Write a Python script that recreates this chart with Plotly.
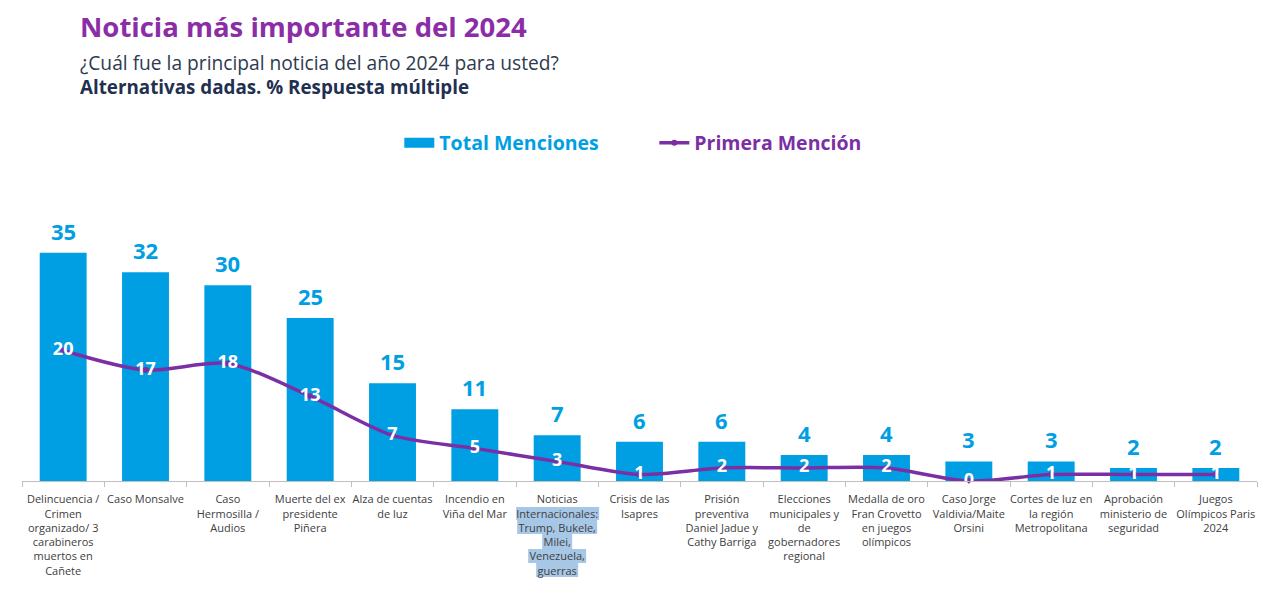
import plotly.graph_objects as go

categories = [
    "Delincuencia /<br>Crimen<br>organizado/ 3<br>carabineros<br>muertos en<br>Cañete",
    "Caso Monsalve",
    "Caso<br>Hermosilla /<br>Audios",
    "Muerte del ex<br>presidente<br>Piñera",
    "Alza de cuentas<br>de luz",
    "Incendio en<br>Viña del Mar",
    "Noticias<br>Internacionales:<br>Trump, Bukele,<br>Milei,<br>Venezuela,<br>guerras",
    "Crisis de las<br>Isapres",
    "Prisión<br>preventiva<br>Daniel Jadue y<br>Cathy Barriga",
    "Elecciones<br>municipales y<br>de<br>gobernadores<br>regional",
    "Medalla de oro<br>Fran Crovetto<br>en juegos<br>olímpicos",
    "Caso Jorge<br>Valdivia/Maite<br>Orsini",
    "Cortes de luz en<br>la región<br>Metropolitana",
    "Aprobación<br>ministerio de<br>seguridad",
    "Juegos<br>Olímpicos Paris<br>2024",
]
total_menciones = [35, 32, 30, 25, 15, 11, 7, 6, 6, 4, 4, 3, 3, 2, 2]
primera_mencion = [20, 17, 18, 13, 7, 5, 3, 1, 2, 2, 2, 0, 1, 1, 1]

BLUE = "#009FE3"
PURPLE = "#7B2FA5"
HILITE = "#A7C7E7"
FONT = "Open Sans"

fig = go.Figure()
fig.add_trace(go.Bar(
    x=categories, y=total_menciones,
    name="Total Menciones", showlegend=False,
    marker=dict(color=BLUE, line=dict(width=0)),
))
# legend proxy drawn as a wide block, like the reference's legend key
fig.add_trace(go.Scatter(
    x=[None], y=[None], mode="lines",
    name="<span style='color:%s'><b>Total Menciones</b></span>" % BLUE,
    line=dict(color=BLUE, width=11),
))
fig.add_trace(go.Scatter(
    x=categories, y=primera_mencion,
    name="<span style='color:%s'><b>Primera Mención</b></span>" % PURPLE,
    mode="lines+markers+text",
    line=dict(color=PURPLE, width=3.5, shape="spline", smoothing=0.8),
    marker=dict(color=PURPLE, size=6),
    text=[str(v) for v in primera_mencion],
    texttemplate="<b>%{text}</b>",
    textposition="middle center",
    textfont=dict(color="white", size=18, family=FONT),
    cliponaxis=False,
))

annotations = [
    dict(x=c, y=v, xref="x", yref="y", text="<b>%d</b>" % v, showarrow=False,
         yanchor="middle", yshift=22, font=dict(color=BLUE, size=22, family=FONT))
    for c, v in zip(categories, total_menciones)
]
x0 = (78 - 22) / 1235
annotations += [
    dict(text="<b>Noticia más importante del 2024</b>", xref="paper", yref="paper",
         x=x0, y=(481 - 26) / 261, xanchor="left", yanchor="middle",
         showarrow=False, font=dict(size=27.5, color="#8B2DA6", family=FONT)),
    dict(text="¿Cuál fue la principal noticia del año 2024 para usted?", xref="paper", yref="paper",
         x=x0, y=(481 - 62) / 261, xanchor="left", yanchor="middle",
         showarrow=False, font=dict(size=19.2, color="#2E3A4F", family=FONT)),
    dict(text="<b>Alternativas dadas. % Respuesta múltiple</b>", xref="paper", yref="paper",
         x=x0, y=(481 - 87) / 261, xanchor="left", yanchor="middle",
         showarrow=False, font=dict(size=18.8, color="#1F3050", family=FONT)),
]

# text-selection highlight behind lines of the "Noticias Internacionales" tick label
hl_rows = [(-41, 42, 507, 520), (-40, 40, 520, 534), (-15, 15, 534, 549),
           (-29, 29, 549, 563), (-21, 21, 563, 577)]
shapes = [
    dict(type="rect", xref="x", yref="paper", xsizemode="pixel", ysizemode="pixel",
         xanchor=6, yanchor=0, x0=a, x1=b, y0=-(t - 481), y1=-(u - 481),
         fillcolor=HILITE, line=dict(width=0), layer="below")
    for a, b, t, u in hl_rows
]

# The page body adds an 8px offset, so the figure is 8px smaller on each side.
fig.update_layout(
    width=1262, height=585,
    paper_bgcolor="white", plot_bgcolor="white",
    margin=dict(l=14, r=13, t=212, b=112),
    bargap=0.43,
    showlegend=True,
    legend=dict(
        orientation="h", x=0.512, xanchor="center", y=(481 - 143) / 261, yanchor="middle",
        font=dict(size=19.5, family=FONT, color=BLUE),
        itemwidth=30, traceorder="normal", entrywidth=210,
    ),
    font=dict(family=FONT),
    annotations=annotations,
    shapes=shapes,
)
fig.update_xaxes(
    type="category", range=[-0.5, len(categories) - 0.5],
    showline=True, linecolor="#BFBFBF", linewidth=1,
    ticks="outside", tickson="boundaries", ticklen=5, tickcolor="#BFBFBF",
    tickfont=dict(size=11, color="#404040", family=FONT), tickangle=0,
    ticklabelstandoff=8, showgrid=False, automargin=False,
)
fig.update_yaxes(range=[0, 40], visible=False, showgrid=False, zeroline=False, automargin=False)

fig.write_html("out.html")
